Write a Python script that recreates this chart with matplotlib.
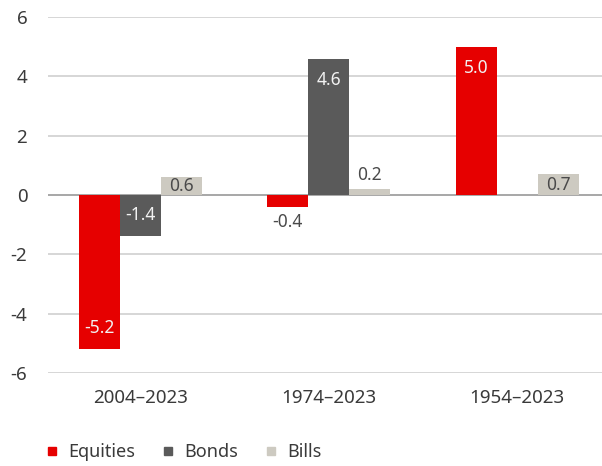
import numpy as np
import matplotlib.pyplot as plt
from matplotlib.lines import Line2D

periods = ['2004\u20132023', '1974\u20132023', '1954\u20132023']
series = ['Equities', 'Bonds', 'Bills']
equities = [-5.2, -0.4, 5.0]
bonds = [-1.4, 4.6, None]
bills = [0.6, 0.2, 0.7]
yticks = [-6, -4, -2, 0, 2, 4, 6]

colors = ['#e60000', '#5a5a5a', '#cdcac1']
text_col = '#4a4a4a'
plt.rcParams['font.family'] = ['Noto Sans', 'DejaVu Sans']
plt.rcParams['font.weight'] = 'light'

fig = plt.figure(figsize=(6.02, 4.66), dpi=100)
ax = fig.add_axes([0.08, 0.2, 0.92, 0.7635])

x = np.arange(len(periods))
w = 0.218
for i, (vals, col) in enumerate(zip([equities, bonds, bills], colors)):
    xs = x + (i - 1) * w
    for xi, v in zip(xs, vals):
        if v is None:
            continue
        ax.bar(xi, v, w, color=col, zorder=3)
        s = '%.1f' % v
        if abs(v) >= 1:
            ax.text(xi, v - np.sign(v) * 0.72, s, ha='center', va='center',
                    color='#f2f2f2', fontsize=12.5, zorder=4)
        elif abs(v) >= 0.5:
            ax.text(xi, v / 2, s, ha='center', va='center',
                    color=text_col, fontsize=12.5, zorder=4)
        else:
            off = 0.47 if v > 0 else -0.5
            ax.text(xi, v + off, s, ha='center', va='center',
                    color=text_col, fontsize=12.5, zorder=4)

ax.set_ylim(-6, 6)
ax.set_xlim(-0.49, 2.45)
ax.set_yticks(yticks)
ax.set_yticklabels([str(t) for t in yticks])
ax.set_xticks(x)
ax.set_xticklabels(periods)
ax.yaxis.grid(True, color='#cfcfcf', lw=1.2, zorder=0)
ax.axhline(0, color='#a8a8a8', lw=1.4, zorder=2)
for sp in ax.spines.values():
    sp.set_visible(False)
ax.tick_params(axis='both', length=0, labelsize=13.5, colors='#3a3a3a')
ax.tick_params(axis='y', pad=15)
ax.tick_params(axis='x', pad=12)

handles = [Line2D([], [], marker='s', ls='none', color=c, markersize=6) for c in colors]
fig.legend(handles, series, loc='lower left', bbox_to_anchor=(0.048, -0.025), ncol=3,
           frameon=False, fontsize=13, handlelength=0.8, handletextpad=0.5,
           columnspacing=1.4, labelcolor='#3a3a3a')

fig.savefig('out.png', dpi=100)
